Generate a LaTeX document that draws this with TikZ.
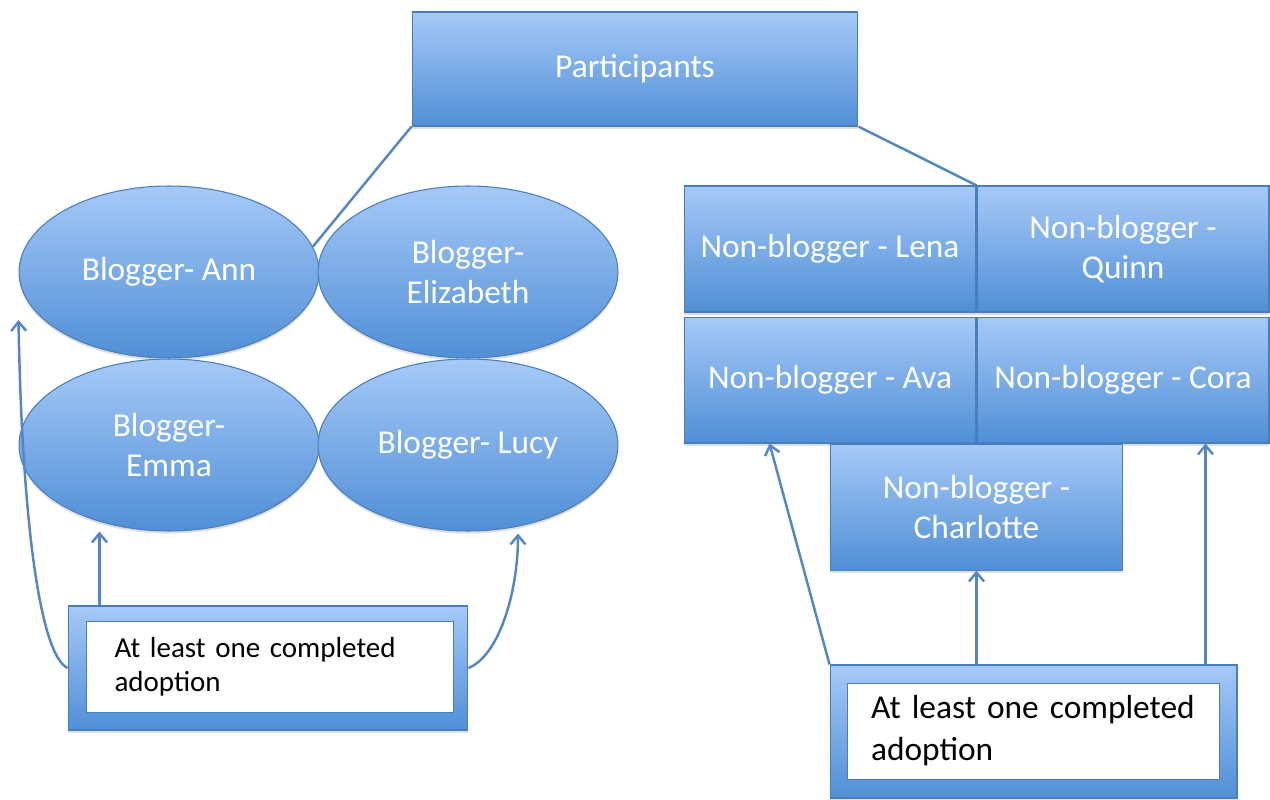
\documentclass[tikz,border=0pt]{standalone}
\usepackage{fontspec}
\setmainfont{Carlito}
\usetikzlibrary{arrows.meta, positioning, shapes.geometric, shadows, calc}

\definecolor{boxtop}{RGB}{166,201,248}
\definecolor{boxbot}{RGB}{80,143,214}
\definecolor{boxline}{RGB}{74,126,187}
\definecolor{linkcol}{RGB}{84,134,196}

\begin{document}
\begin{tikzpicture}[
    x=0.02cm, y=-0.02cm,
    node distance=0pt,
    fillbox/.style={draw=boxline, line width=0.6pt, top color=boxtop, bottom color=boxbot, text=white, align=center,
        font=\fontsize{19}{23}\selectfont, drop shadow={opacity=0.25, shadow xshift=0pt, shadow yshift=-1.5pt}},
    topbox/.style={fillbox, rectangle, minimum width=8.92cm, minimum height=2.28cm},
    blog/.style={fillbox, ellipse, inner sep=0pt, minimum width=6cm, minimum height=3.44cm},
    nonblog/.style={fillbox, rectangle, minimum width=5.84cm, minimum height=2.52cm},
    adoptframe/.style={fillbox, rectangle},
    adoptnote/.style={draw=boxline, line width=0.4pt, fill=white, text=black, align=left, inner ysep=0pt},
    link/.style={draw=linkcol, line width=1.4pt},
    arr/.style={link, -{Straight Barb[length=1.8mm, width=3mm]}}
]
\useasboundingbox (0,0) rectangle (1270,800);

\node[topbox] (part) at (635,69) {Participants};

% bloggers
\node[blog] (ann) at (169,272) {Blogger- Ann};
\node[blog] (eliz) at (468,272) {Blogger-\\Elizabeth};
\node[blog] (emma) at (169,445) {Blogger-\\Emma};
\node[blog] (lucy) at (468,445) {Blogger- Lucy};

% non-bloggers
\node[nonblog] (lena) at (830,249) {Non-blogger - Lena};
\node[nonblog, right=of lena] (quinn) {Non-blogger -\\Quinn};
\node[nonblog, below=0.08cm of lena] (ava) {Non-blogger - Ava};
\node[nonblog, right=of ava] (cora) {Non-blogger - Cora};
\node[nonblog, below=of ava.south east] (char) {Non-blogger -\\Charlotte};

% adoption boxes
\node[adoptframe, minimum width=8cm, minimum height=2.48cm] (bfrm) at (268,668) {};
\node[adoptnote, font=\fontsize{16.5}{19.5}\selectfont, text width=6.22cm, inner xsep=0.56cm, minimum height=1.82cm] (btxt) at (270,667) {At least one completed\\adoption};
\node[adoptframe, minimum width=8.14cm, minimum height=2.66cm] (afrm) at (1033.5,731.5) {};
\node[adoptnote, font=\fontsize{19}{24}\selectfont, text width=6.48cm, inner xsep=0.48cm, minimum height=1.92cm] (atxt) at (1033,731) {At least one completed\\adoption};

% links
\draw[link] (part.south west) -- (ann.10);
\draw[link] (part.south east) -- (lena.north east);

\draw[arr] (bfrm.west) .. controls +(-30,-15) and +(3,180) .. ($(ann.west)+(0,48)$);
\draw[arr] ($(bfrm.north west)+(32,0)$) coordinate (e1) -- (e1 |- emma.south);
\draw[arr] (bfrm.east) .. controls +(30,-12) and +(0,60) .. ($(lucy.south)+(50,2)$);

\draw[arr] (afrm.north west) -- ($(ava.south west)+(86,0)$);
\draw[arr] (char.south |- afrm.north) -- (char.south);
\draw[arr] ($(afrm.north east)+(-32,0)$) coordinate (c1) -- (c1 |- cora.south);
\end{tikzpicture}
\end{document}
